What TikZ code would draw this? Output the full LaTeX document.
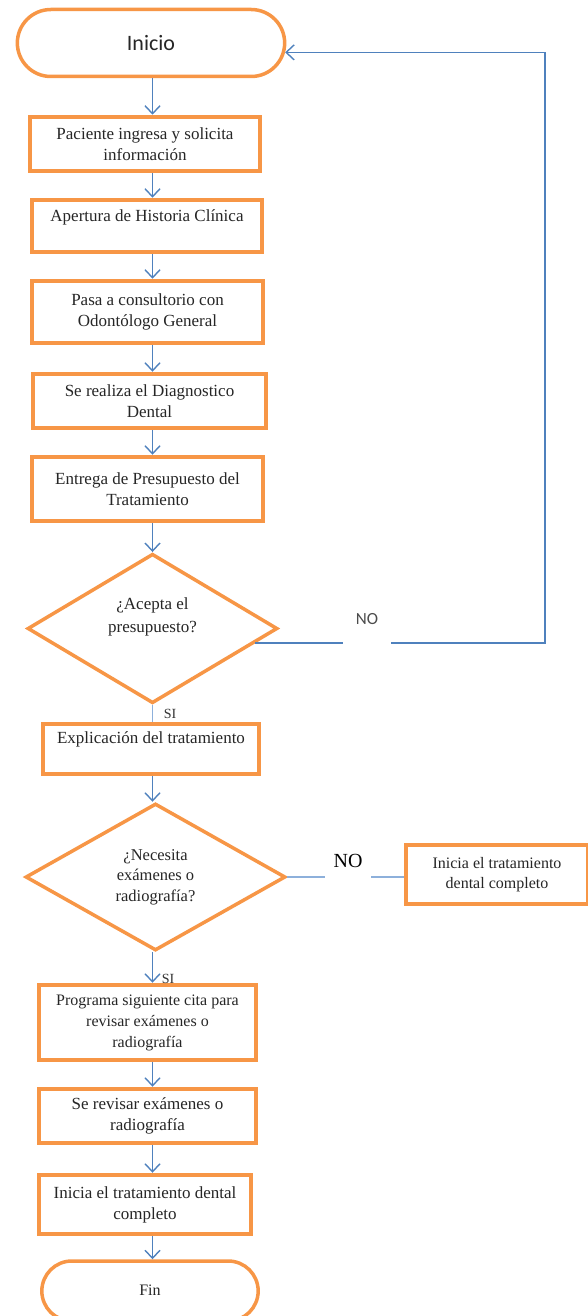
\documentclass[tikz,border=0pt]{standalone}
\usepackage{fontspec}
\setmainfont{Liberation Serif}
\newfontfamily\calibri{Carlito}
\usetikzlibrary{shapes.geometric,shapes.misc,arrows.meta}

\definecolor{naranja}{RGB}{247,150,70}
\definecolor{azul}{RGB}{79,129,189}
\definecolor{azulclaro}{RGB}{141,176,219}

\tikzset{
  caja/.style={draw=naranja, line width=4.5pt, fill=white, align=center, inner sep=1pt,
    text=black!85, font=\fontsize{17}{21}\selectfont},
  decision/.style={diamond, draw=naranja, line width=3.5pt, fill=white, align=center, inner sep=0pt,
    text=black!85, font=\fontsize{17}{23}\selectfont},
  terminal/.style={rounded rectangle, draw=naranja, line width=3.5pt, fill=white, text=black!85},
  flecha/.style={draw=azul, line width=1.4pt, -{Straight Barb[length=8pt,width=15pt,line width=1.4pt]}},
  enlace/.style={draw=azulclaro, line width=1.3pt},
  rotulo/.style={fill=white, inner xsep=0pt, inner ysep=1pt, anchor=base}
}

\begin{document}
\begin{tikzpicture}[x=1pt,y=-1pt]
  \useasboundingbox (0,0) rectangle (587,1316);

  % terminales
  \node[terminal, minimum width=274pt, minimum height=67pt, font=\calibri\fontsize{22}{26}\selectfont] (inicio) at (151,43) {Inicio};
  \node[terminal, minimum width=223pt, minimum height=60pt, font=\fontsize{16}{21}\selectfont] (fin) at (150,1291) {Fin\\[-8pt]\strut};

  % pasos
  \node[caja, minimum width=230pt, minimum height=54pt] (p1) at (145,144) {Paciente ingresa y solicita\\información};
  \node[caja, minimum width=230pt, minimum height=52pt] (p2) at (147,226) {Apertura de Historia Clínica\\[-6pt]\strut};
  \node[caja, minimum width=231pt, minimum height=62pt] (p3) at (147.5,312) {Pasa a consultorio con\\Odontólogo General};
  \node[caja, minimum width=233pt, minimum height=54pt] (p4) at (149.5,401) {Se realiza el Diagnostico\\Dental};
  \node[caja, minimum width=231pt, minimum height=64pt] (p5) at (147.5,489) {Entrega de Presupuesto del\\Tratamiento};

  \node[decision, minimum width=250pt, minimum height=144pt] (d1) at (152.5,628.5) {¿Acepta el\\presupuesto?\\[-4pt]\strut};

  \node[caja, minimum width=216pt, minimum height=50pt] (p6) at (151,749) {Explicación del tratamiento\\[-4pt]\strut};

  \node[decision, minimum width=260pt, minimum height=147pt, font=\fontsize{16.5}{20.5}\selectfont] (d2) at (155.5,877) {¿Necesita\\exámenes o\\radiografía?};

  \node[caja, minimum width=182pt, minimum height=59pt, font=\fontsize{16}{20}\selectfont] (p7) at (497,874.5) {Inicia el tratamiento\\dental completo};

  \node[caja, minimum width=217pt, minimum height=75pt, font=\fontsize{16}{21}\selectfont] (p8) at (147.5,1022.5) {Programa siguiente cita para\\revisar exámenes o\\radiografía};
  \node[caja, minimum width=217pt, minimum height=54pt] (p9) at (147.5,1116) {Se revisar exámenes o\\radiografía};
  \node[caja, minimum width=212pt, minimum height=59pt] (p10) at (145,1204.5) {Inicia el tratamiento dental\\completo};

  % flechas
  \coordinate (eje) at (152.5,0);
  \draw[flecha] (inicio.south -| eje) -- (p1.north -| eje);
  \draw[flecha] (p1.south -| eje) -- (p2.north -| eje);
  \draw[flecha] (p2.south -| eje) -- (p3.north -| eje);
  \draw[flecha] (p3.south -| eje) -- (p4.north -| eje);
  \draw[flecha] (p4.south -| eje) -- (p5.north -| eje);
  \draw[flecha] (p5.south -| eje) -- (d1.north);
  \draw[enlace] (d1.south) -- (d1.south |- p6.north);
  \draw[flecha] (p6.south -| eje) -- (d2.north -| eje);
  \draw[flecha] (d2.south -| eje) -- (p8.north -| eje);
  \draw[flecha] (p8.south -| eje) -- (p9.north -| eje);
  \draw[flecha] (p9.south -| eje) -- (p10.north -| eje);
  \draw[flecha] (p10.south -| eje) -- (fin.north -| eje);

  % retorno al inicio
  \coordinate (retorno) at (545,0);
  \draw[flecha, line width=1.2pt] (d1.-8) -- (d1.-8 -| retorno) |- (inicio.-4);
  \draw[enlace] (d2.east) -- (d2.east -| p7.west);

  % rotulos
  \node[rotulo, minimum width=48pt, text depth=22pt, text=black!70, font=\calibri\fontsize{17}{20}\selectfont] (no1) at (367,624) {NO};
  \node[rotulo, minimum width=46pt, text depth=14pt, text=black, font=\fontsize{20}{24}\selectfont] (no2) at (348,867) {NO};
  \node[anchor=base, inner sep=0pt, text=black!80, font=\fontsize{14}{16}\selectfont] (si1) at (170,718) {SI};
  \node[anchor=base, inner sep=0pt, text=black!80, font=\fontsize{14}{16}\selectfont] (si2) at (168,983) {SI};
\end{tikzpicture}
\end{document}
